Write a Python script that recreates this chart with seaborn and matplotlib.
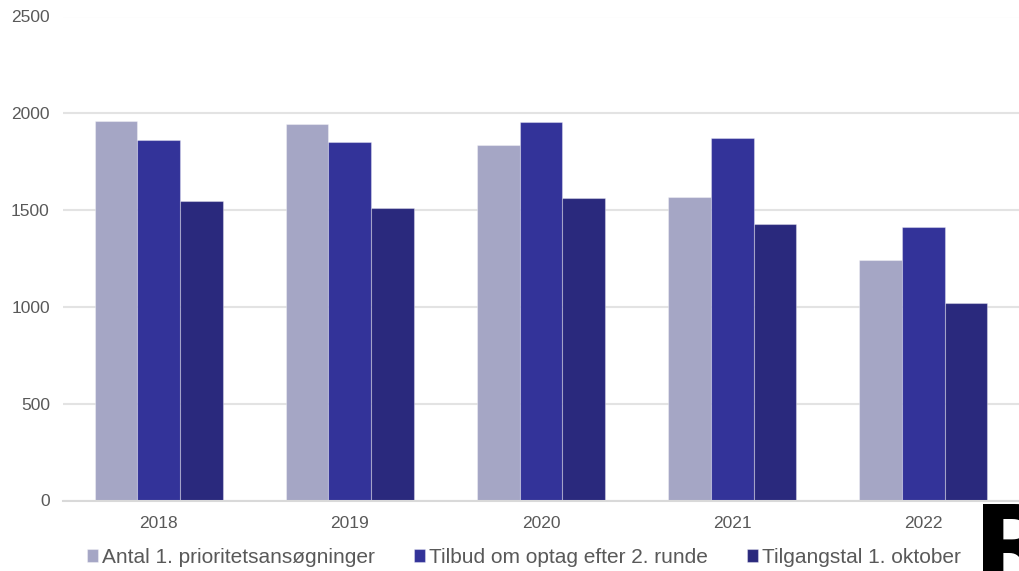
import matplotlib
matplotlib.use("Agg")
import pandas as pd
import matplotlib.pyplot as plt
import seaborn as sns

# data
years = ["2018", "2019", "2020", "2021", "2022"]
series = ["Antal 1. prioritetsansøgninger", "Tilbud om optag efter 2. runde", "Tilgangstal 1. oktober"]
ansoegninger = [1962, 1943, 1837, 1568, 1241]
tilbud = [1860, 1853, 1957, 1874, 1412]
tilgang = [1548, 1509, 1561, 1427, 1018]
colors = ["#A5A6C5", "#333399", "#2A297D"]

rows = []
for name, vals in zip(series, [ansoegninger, tilbud, tilgang]):
    for y, v in zip(years, vals):
        rows.append({"year": y, "series": name, "value": v})
df = pd.DataFrame(rows)

sns.set_style("white")
plt.rcParams["font.family"] = ["Liberation Sans", "DejaVu Sans"]

fig = plt.figure(figsize=(10.19, 5.71), dpi=100)
ax = fig.add_axes([63 / 1019, 1 - 500.5 / 571, 1 - 63 / 1019, (500.5 - 16.5) / 571])

sns.barplot(data=df, x="year", y="value", hue="series", hue_order=series,
            palette=colors, width=0.67, gap=0, saturation=1,
            edgecolor=(1, 1, 1, 0.35), linewidth=0.8, ax=ax)

ax.set_ylim(0, 2500)
ax.set_xlim(-0.5, 4.5)
ax.set_yticks([0, 500, 1000, 1500, 2000, 2500])
ax.yaxis.grid(True, color="#E3E3E3", linewidth=1.5)
ax.set_axisbelow(True)
for s in ["top", "right", "left"]:
    ax.spines[s].set_visible(False)
ax.spines["bottom"].set_color("#D9D9D9")
ax.spines["bottom"].set_linewidth(1.5)
ax.tick_params(axis="y", length=0, pad=9.5, labelsize=12.5, labelcolor="#595959")
ax.tick_params(axis="x", length=0, pad=11, labelsize=12.5, labelcolor="#595959")
ax.set_xlabel("")
ax.set_ylabel("")

handles, labels = ax.get_legend_handles_labels()
ax.get_legend().remove()
fig.legend(handles, labels, loc="center left", bbox_to_anchor=(77 / 1019, 0.024), ncol=3,
           frameon=False, fontsize=15, labelcolor="#595959",
           handlelength=0.5, handleheight=0.6, handletextpad=0.2, columnspacing=1.9,
           borderpad=0)

# corner logo, cut by the edge of the picture
fig.text(0.955, 1 - 500 / 571, "R", fontsize=78, fontweight="heavy", color="black",
         ha="left", va="top", family="DejaVu Sans")

fig.savefig("out.png", dpi=100)
